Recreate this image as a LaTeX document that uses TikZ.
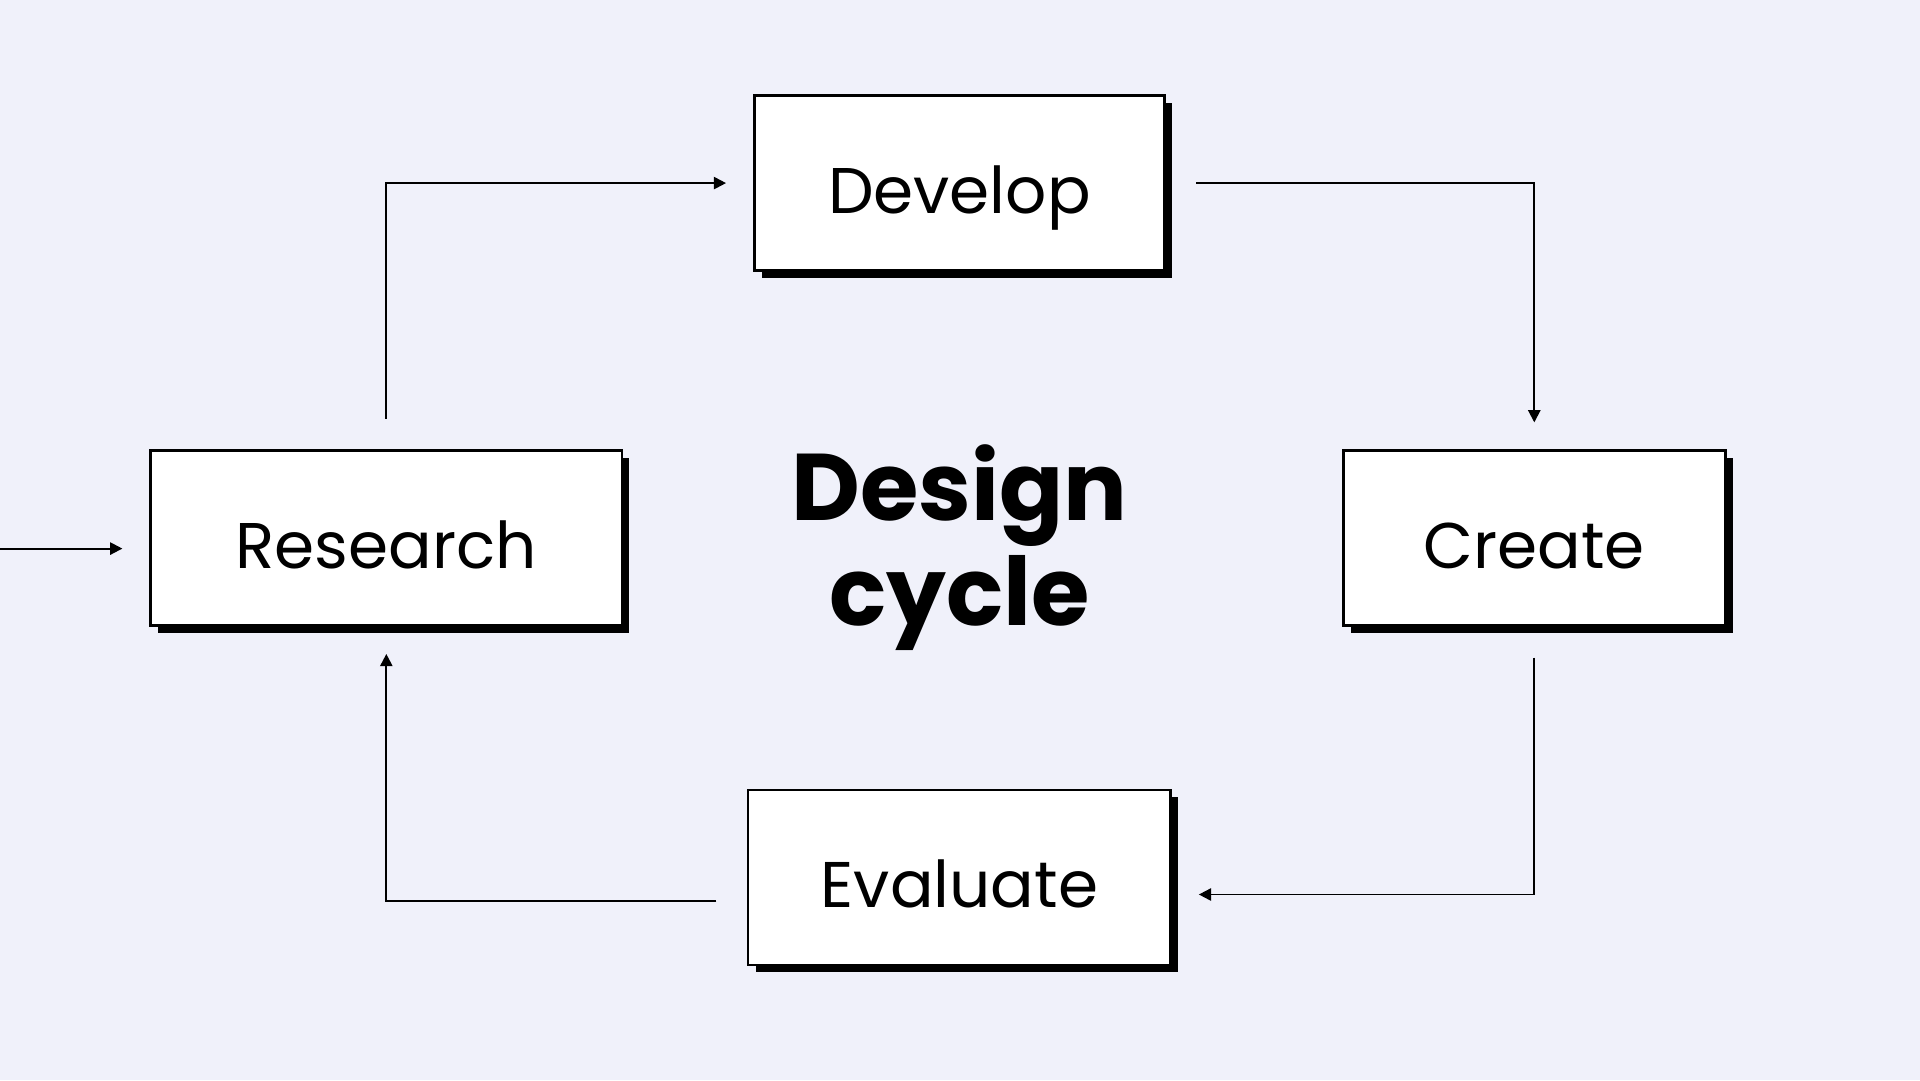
\documentclass[tikz,border=0pt]{standalone}
\usepackage{fontspec}
\setmainfont{Poppins}
\usetikzlibrary{positioning,shadows,arrows.meta}
\definecolor{bgcol}{HTML}{F0F1FA}
\tikzset{
  stagebox/.style={draw=black, line width=0.6pt, fill=white, minimum height=1.43cm,
    font=\fontsize{15}{18}\selectfont, text height=0.5cm, text depth=0cm,
    drop shadow={shadow xshift=0.06cm, shadow yshift=-0.06cm, opacity=1, fill=black}},
  flow/.style={line width=0.45pt, -{Triangle[length=0.1cm,width=0.1cm]},
    shorten <=0.25cm, shorten >=0.22cm}
}
\begin{document}
\begin{tikzpicture}
	\fill[bgcol] (0,0) rectangle (15.68,8.82);
	\useasboundingbox (0,0) rectangle (15.68,8.82);
	
	\node[stagebox, minimum width=3.35cm] (develop) at (7.835,7.325) {Develop};
	\node[stagebox, minimum width=3.85cm] (research) at (3.155,4.425) {Research};
	\node[stagebox, minimum width=3.12cm] (create) at (12.53,4.425) {Create};
	\node[stagebox, minimum width=3.45cm] (evaluate) at (7.835,1.655) {Evaluate};
	\node[font=\fontsize{22}{24.5}\selectfont\bfseries, align=center] (title) at (7.835,4.35) {Design\\cycle};
	
	\coordinate (start) at (0,4.34);
	
	\draw[flow] (research.north) |- (develop.west);
	\draw[flow] (develop.east) -| (create.north);
	\draw[flow] (create.south) |- ([yshift=-0.14cm]evaluate.east);
	\draw[flow] ([yshift=-0.19cm]evaluate.west) -| (research.south);
	\draw[flow, shorten <=0cm] (start) -- (start -| research.west);
\end{tikzpicture}
\end{document}
